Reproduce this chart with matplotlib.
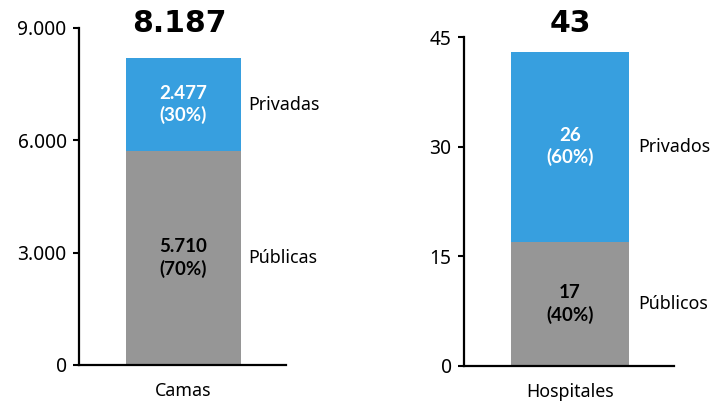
import matplotlib
matplotlib.use("Agg")
import matplotlib.pyplot as plt
from matplotlib.transforms import blended_transform_factory

# ---- data ----
panels = ["Camas", "Hospitales"]
public_vals = [5710, 17]
private_vals = [2477, 26]
totals_labels = ["8.187", "43"]
public_labels = ["5.710\n(70%)", "17\n(40%)"]
private_labels = ["2.477\n(30%)", "26\n(60%)"]
public_names = ["Públicas", "Públicos"]
private_names = ["Privadas", "Privados"]
yticks = [[0, 3000, 6000, 9000], [0, 15, 30, 45]]
ytick_labels = [["0", "3.000", "6.000", "9.000"], ["0", "15", "30", "45"]]
ymax = [9000, 45]

BLUE = "#379FDF"
GRAY = "#969696"
FONT = "Noto Sans"
BFONT = "Lato"
FS = 12.8

fig = plt.figure(figsize=(7.15, 4.01), dpi=100)
rects = [[0.1105, 0.0898, 0.2895, 0.8404], [0.649, 0.0873, 0.2937, 0.8204]]
side_off = [5, 7]

for i in range(2):
    ax = fig.add_axes(rects[i])
    x = [0]
    ax.bar(x, [public_vals[i]], width=0.56, color=GRAY, zorder=2)
    ax.bar(x, [private_vals[i]], bottom=[public_vals[i]], width=0.56, color=BLUE, zorder=2)
    ax.set_xlim(-0.505, 0.495)
    ax.set_ylim(0, ymax[i])
    ax.set_yticks(yticks[i])
    ax.set_yticklabels(ytick_labels[i], fontfamily=FONT, fontsize=13.8)
    ax.set_xticks(x)
    ax.set_xticklabels([panels[i]], fontfamily=FONT, fontsize=FS)
    ax.tick_params(axis="x", length=0, pad=12)
    ax.tick_params(axis="y", direction="out", length=4, width=1.5, pad=5)
    for s in ["top", "right"]:
        ax.spines[s].set_visible(False)
    for s in ["left", "bottom"]:
        ax.spines[s].set_linewidth(1.6)
        ax.spines[s].set_color("black")
    # inner labels
    pub_c = public_vals[i] / 2
    pri_c = public_vals[i] + private_vals[i] / 2
    ax.text(0, pub_c, public_labels[i], ha="center", va="center", color="black",
            fontweight="bold", fontfamily=BFONT, fontsize=13.5, linespacing=1.28, zorder=3)
    ax.text(0, pri_c, private_labels[i], ha="center", va="center", color="white",
            fontweight="bold", fontfamily=BFONT, fontsize=13.5, linespacing=1.28, zorder=3)
    # side labels
    ax.annotate(public_names[i], xy=(0.28, pub_c), xytext=(side_off[i], 0), textcoords="offset points",
                ha="left", va="center", fontfamily=FONT, fontsize=FS, annotation_clip=False)
    ax.annotate(private_names[i], xy=(0.28, pri_c), xytext=(side_off[i], 0), textcoords="offset points",
                ha="left", va="center", fontfamily=FONT, fontsize=FS, annotation_clip=False)
    # total above
    tr = blended_transform_factory(ax.transData, fig.transFigure)
    ax.text(-0.02 if i == 0 else 0, 0.942, totals_labels[i], transform=tr, ha="center", va="center",
            fontweight="bold", fontfamily="DejaVu Sans", fontsize=21.5)

fig.savefig("out.png", dpi=100, facecolor="white")
